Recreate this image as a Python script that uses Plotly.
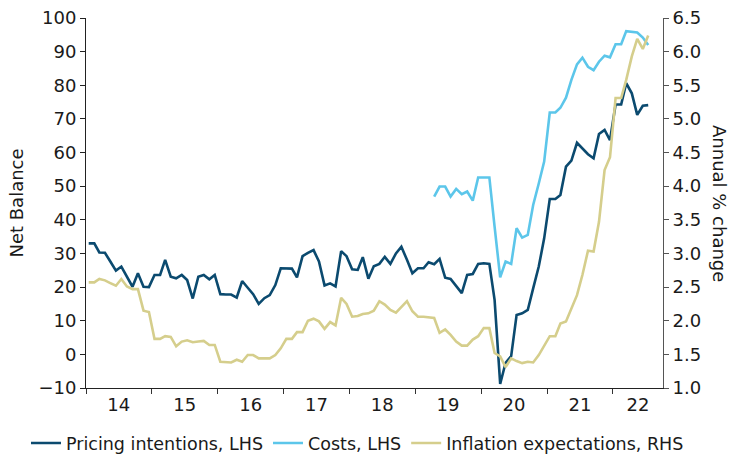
import pandas as pd
import plotly.graph_objects as go

# Monthly data, Jan 2014 - Jul 2022
start_month = "2014-01-01"
n_months = 103
pricing_lhs = [33.0, 33.0, 30.3, 30.2, 27.6, 24.9, 26.1, 23.1, 20.1, 24.1, 20.1, 20.0,
               23.6, 23.6, 28.1, 23.1, 22.6, 23.6, 22.1, 16.6, 23.1, 23.6, 22.3, 23.6,
               17.9, 17.8, 17.8, 16.9, 21.8, 19.8, 17.9, 15.0, 16.7, 17.6, 20.6, 25.6,
               25.6, 25.5, 22.9, 29.2, 30.2, 31.0, 27.6, 20.5, 21.1, 20.2, 30.7, 29.2,
               25.3, 25.1, 28.9, 22.5, 26.2, 26.9, 29.0, 26.9, 30.0, 32.0, 28.1, 24.1,
               25.6, 25.6, 27.4, 26.8, 28.4, 22.8, 22.4, 20.3, 18.2, 23.6, 23.9, 26.9,
               27.1, 26.9, 16.2, -8.8, -2.5, -0.5, 11.7, 12.2, 13.2, 19.6, 26.1, 34.5,
               46.2, 46.2, 47.4, 55.8, 57.6, 62.9, 61.2, 59.5, 58.3, 65.5, 66.7, 63.7,
               74.3, 74.3, 80.6, 77.6, 71.2, 73.9, 74.1]

costs_start_index = 63  # Apr 2019
costs_lhs = [46.9, 49.9, 49.9, 46.9, 49.2, 47.6, 48.4, 45.7, 52.6, 52.6,
             52.6, 38.0, 22.9, 27.6, 26.9, 37.5, 34.7, 35.5, 44.4, 50.8,
             57.3, 71.9, 71.9, 73.3, 76.3, 81.6, 86.2, 88.2, 85.5, 84.5,
             87.0, 88.8, 88.3, 92.2, 92.2, 96.1, 95.9, 95.7, 94.2, 92.0]

inflation_rhs = [2.57, 2.57, 2.62, 2.60, 2.56, 2.52, 2.62, 2.51, 2.47, 2.47, 2.15, 2.13,
                 1.73, 1.73, 1.77, 1.76, 1.62, 1.69, 1.71, 1.68, 1.69, 1.70, 1.64, 1.64,
                 1.39, 1.39, 1.38, 1.42, 1.39, 1.49, 1.49, 1.44, 1.44, 1.44, 1.49, 1.59,
                 1.73, 1.73, 1.83, 1.83, 2.00, 2.03, 1.99, 1.88, 1.98, 1.93, 2.34, 2.25,
                 2.06, 2.07, 2.10, 2.11, 2.15, 2.29, 2.24, 2.16, 2.12, 2.21, 2.29, 2.14,
                 2.06, 2.06, 2.05, 2.04, 1.82, 1.87, 1.79, 1.69, 1.63, 1.63, 1.72, 1.77,
                 1.89, 1.89, 1.52, 1.47, 1.31, 1.44, 1.40, 1.37, 1.39, 1.38, 1.49, 1.62,
                 1.77, 1.77, 1.96, 1.99, 2.19, 2.38, 2.68, 3.04, 3.03, 3.47, 4.24, 4.43,
                 5.31, 5.31, 5.58, 5.93, 6.19, 6.04, 6.24]

year_labels = ["14", "15", "16", "17", "18", "19", "20", "21", "22"]
left_ticks = list(range(-10, 101, 10))
right_ticks = [1.0, 1.5, 2.0, 2.5, 3.0, 3.5, 4.0, 4.5, 5.0, 5.5, 6.0, 6.5]

months = pd.date_range(start_month, periods=n_months, freq="MS")
x_mid = months + pd.Timedelta(days=15)  # points at middle of each month bin
costs_x = x_mid[costs_start_index:costs_start_index + len(costs_lhs)]

x_range = [pd.Timestamp("2014-01-01"), pd.Timestamp("2022-10-06")]
year_starts = [pd.Timestamp(f"20{y}-01-01") for y in year_labels]
label_pos = [pd.Timestamp(f"20{y}-07-02") for y in year_labels[:-1]] + [pd.Timestamp("2022-05-20")]

C_PRICE = "#0b4a6f"
C_COST = "#5cc6ea"
C_INFL = "#d5ce8c"
FONT = "DejaVu Sans"
FS = 18
TXT = "#1a1a1a"

fig = go.Figure()
fig.add_trace(go.Scatter(x=x_mid, y=pricing_lhs, mode="lines", name="Pricing intentions, LHS",
                         line=dict(color=C_PRICE, width=2.6), yaxis="y"))
fig.add_trace(go.Scatter(x=costs_x, y=costs_lhs, mode="lines", name="Costs, LHS",
                         line=dict(color=C_COST, width=2.6), yaxis="y"))
fig.add_trace(go.Scatter(x=x_mid, y=inflation_rhs, mode="lines", name="Inflation expectations, RHS",
                         line=dict(color=C_INFL, width=2.6), yaxis="y2"))
# helper trace so the year-label axis is drawn (no visible marks)
fig.add_trace(go.Scatter(x=label_pos, y=[None] * len(label_pos), xaxis="x2", yaxis="y",
                         mode="lines", showlegend=False, hoverinfo="skip"))

fig.update_layout(
    width=731, height=455,
    margin=dict(l=86, r=68, t=18, b=67, autoexpand=False),
    paper_bgcolor="white", plot_bgcolor="white",
    font=dict(family=FONT, size=FS, color=TXT),
    showlegend=True,
    legend=dict(orientation="h", x=-0.104, xanchor="left", y=-0.149, yanchor="middle",
                font=dict(family=FONT, size=17.5, color=TXT), itemwidth=30,
                tracegroupgap=0, bgcolor="rgba(0,0,0,0)"),
    xaxis=dict(type="date", range=x_range, tickvals=year_starts, showticklabels=False,
               ticks="outside", ticklen=5, tickcolor="#333", showline=True, linecolor="#222",
               linewidth=1, showgrid=False, zeroline=False, automargin=False),
    xaxis2=dict(type="date", range=x_range, overlaying="x", anchor="y", side="bottom",
                tickvals=label_pos, ticktext=year_labels, ticks="", showline=False,
                showgrid=False, zeroline=False, automargin=False, ticklabelstandoff=4,
                tickfont=dict(family=FONT, size=FS, color=TXT)),
    yaxis=dict(range=[-10, 100], tickvals=left_ticks, ticks="outside", ticklen=5,
               tickcolor="#222", showline=True, linecolor="#222", linewidth=1,
               showgrid=False, zeroline=False, automargin=False,
               title=dict(text="Net Balance", font=dict(family=FONT, size=FS, color=TXT), standoff=10)),
    yaxis2=dict(range=[1.0, 6.5], tickvals=right_ticks, tickformat=".1f", overlaying="y",
                side="right", ticks="outside", ticklen=5, tickcolor="#555", showline=True,
                linecolor="#555", linewidth=1, showgrid=False, zeroline=False, automargin=False),
    annotations=[dict(text="Annual % change", textangle=90, xref="paper", yref="paper",
                      x=1.0, xshift=57, y=0.5, showarrow=False, xanchor="center",
                      yanchor="middle", font=dict(family=FONT, size=FS, color=TXT))],
)

fig.write_html("out.html", config={"displayModeBar": False},
               post_script="document.body.style.margin='0px';document.body.style.overflow='hidden';")
